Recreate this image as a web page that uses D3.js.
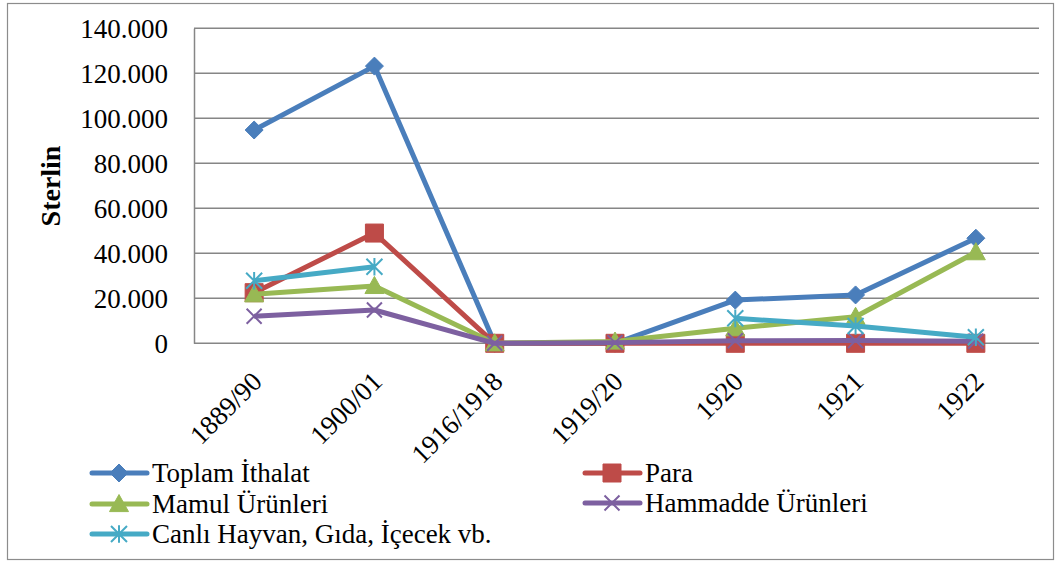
<!DOCTYPE html>
<html>
<head>
<meta charset="utf-8">
<script src="https://cdn.jsdelivr.net/npm/d3@7"></script>
<style>
  body { margin: 0; background: #fff; }
  text { font-family: "Liberation Serif", "Times New Roman", serif; fill: #000; }
</style>
</head>
<body>
<div id="chart"></div>
<script>
// Categories and series (Sterlin)
const years = ["1889/90", "1900/01", "1916/1918", "1919/20", "1920", "1921", "1922"];
const toplam = [94800, 123200, 0, 0, 19200, 21500, 46700];
const para = [22500, 49000, 0, 0, 0, 0, 0];
const mamul = [21800, 25500, 0, 800, 6700, 11800, 40500];
const hammadde = [12000, 14800, 0, 300, 1100, 1200, 900];
const canli = [27800, 34000, null, null, 11100, 7700, 2700];
const yTicks = [0, 20000, 40000, 60000, 80000, 100000, 120000, 140000];

const seriesNames = ["Toplam İthalat", "Para", "Mamul Ürünleri", "Hammadde Ürünleri", "Canlı Hayvan, Gıda, İçecek vb."];
const seriesValues = [toplam, para, mamul, hammadde, canli];
const seriesColors = ["#4A7EBB", "#BE4B48", "#98B954", "#7D60A0", "#46AAC5"];
const seriesMarkers = ["diamond", "square", "triangle", "cross", "star"];

const width = 1061, height = 564;
const margin = {top: 28.3, bottom: 220.7, left: 194, right: 25};

const svg = d3.select("#chart")
    .append("svg")
    .attr("width", width)
    .attr("height", height);

// outer frame
svg.append("rect")
    .attr("x", 7.5).attr("y", 3.5)
    .attr("width", 1046).attr("height", 556)
    .attr("fill", "none")
    .attr("stroke", "#8c8c8c")
    .attr("stroke-width", 1.2);

const xScale = d3.scalePoint()
    .domain(years)
    .range([margin.left, width - margin.right])
    .padding(0.5);

const yScale = d3.scaleLinear()
    .domain([0, 140000])
    .range([height - margin.bottom, margin.top]);

const fmt = v => d3.format(",")(v).replace(/,/g, ".");

// gridlines
svg.append("g")
    .selectAll("line")
    .data(yTicks)
    .enter().append("line")
    .attr("x1", margin.left)
    .attr("x2", width - margin.right + 3)
    .attr("y1", d => yScale(d))
    .attr("y2", d => yScale(d))
    .attr("stroke", "#868686")
    .attr("stroke-width", 1.5);

// y axis
const yAxis = svg.append("g")
    .attr("transform", `translate(${margin.left},0)`)
    .call(d3.axisLeft(yScale).tickValues(yTicks).tickFormat(fmt).tickSize(0).tickPadding(26));
yAxis.select(".domain").attr("stroke", "#868686").attr("stroke-width", 1.5);
yAxis.selectAll("text")
    .style("font-family", "Liberation Serif")
    .style("font-size", "27px")
    .attr("dy", "0.34em");

// x axis
const xAxis = svg.append("g")
    .attr("transform", `translate(0,${yScale(0)})`)
    .call(d3.axisBottom(xScale).tickSize(0).tickPadding(0));
xAxis.select(".domain").remove();
xAxis.selectAll("text")
    .style("font-family", "Liberation Serif")
    .style("font-size", "27px")
    .attr("text-anchor", "end")
    .attr("dy", null)
    .attr("y", 0)
    .attr("transform", "translate(9,40) rotate(-45)");

// y axis title
svg.append("text")
    .attr("transform", "translate(60,186) rotate(-90)")
    .attr("text-anchor", "middle")
    .style("font-size", "28px")
    .style("font-weight", "bold")
    .text("Sterlin");

// marker shapes
function markerPath(type, s) {
    const h = s / 2;
    if (type === "diamond") return `M0,${-h}L${h},0L0,${h}L${-h},0Z`;
    if (type === "square") return `M${-h},${-h}H${h}V${h}H${-h}Z`;
    if (type === "triangle") return `M0,${-h}L${h},${h * 0.8}L${-h},${h * 0.8}Z`;
    if (type === "cross") return `M${-h},${-h}L${h},${h}M${h},${-h}L${-h},${h}`;
    // star: cross plus vertical
    return `M${-h},${-h}L${h},${h}M${h},${-h}L${-h},${h}M0,${-h * 1.1}V${h * 1.1}`;
}
function drawMarker(g, type, color, size) {
    const open = type === "cross" || type === "star";
    g.append("path")
        .attr("d", markerPath(type, size))
        .attr("fill", open ? "none" : color)
        .attr("stroke", color)
        .attr("stroke-width", open ? 2 : 1);
}
const markerSize = {diamond: 18, square: 18, triangle: 19, cross: 15, star: 16};

const line = d3.line()
    .defined(d => d.v !== null)
    .x(d => xScale(d.year))
    .y(d => yScale(d.v));

// series
seriesValues.forEach((vals, i) => {
    const pts = years.map((y, j) => ({year: y, v: vals[j]}));
    svg.append("path")
        .datum(pts)
        .attr("d", line)
        .attr("fill", "none")
        .attr("stroke", seriesColors[i])
        .attr("stroke-width", 5)
        .attr("stroke-linejoin", "round");

    pts.filter(d => d.v !== null).forEach(d => {
        const g = svg.append("g")
            .attr("transform", `translate(${xScale(d.year)},${yScale(d.v)})`);
        drawMarker(g, seriesMarkers[i], seriesColors[i], markerSize[seriesMarkers[i]]);
    });
});

// legend
const legendPos = [
    {x: 92, y: 473}, {x: 585, y: 473},
    {x: 92, y: 504}, {x: 585, y: 503},
    {x: 92, y: 534}
];
seriesNames.forEach((name, i) => {
    const g = svg.append("g")
        .attr("transform", `translate(${legendPos[i].x},${legendPos[i].y})`);
    g.append("line")
        .attr("x1", 0).attr("x2", 55)
        .attr("stroke", seriesColors[i])
        .attr("stroke-width", 5)
        .attr("stroke-linecap", "round");
    const m = g.append("g").attr("transform", "translate(27,0)");
    drawMarker(m, seriesMarkers[i], seriesColors[i], markerSize[seriesMarkers[i]]);
    g.append("text")
        .attr("x", 60)
        .attr("dy", "0.34em")
        .style("font-size", "27px")
        .text(name);
});
</script>
</body>
</html>
